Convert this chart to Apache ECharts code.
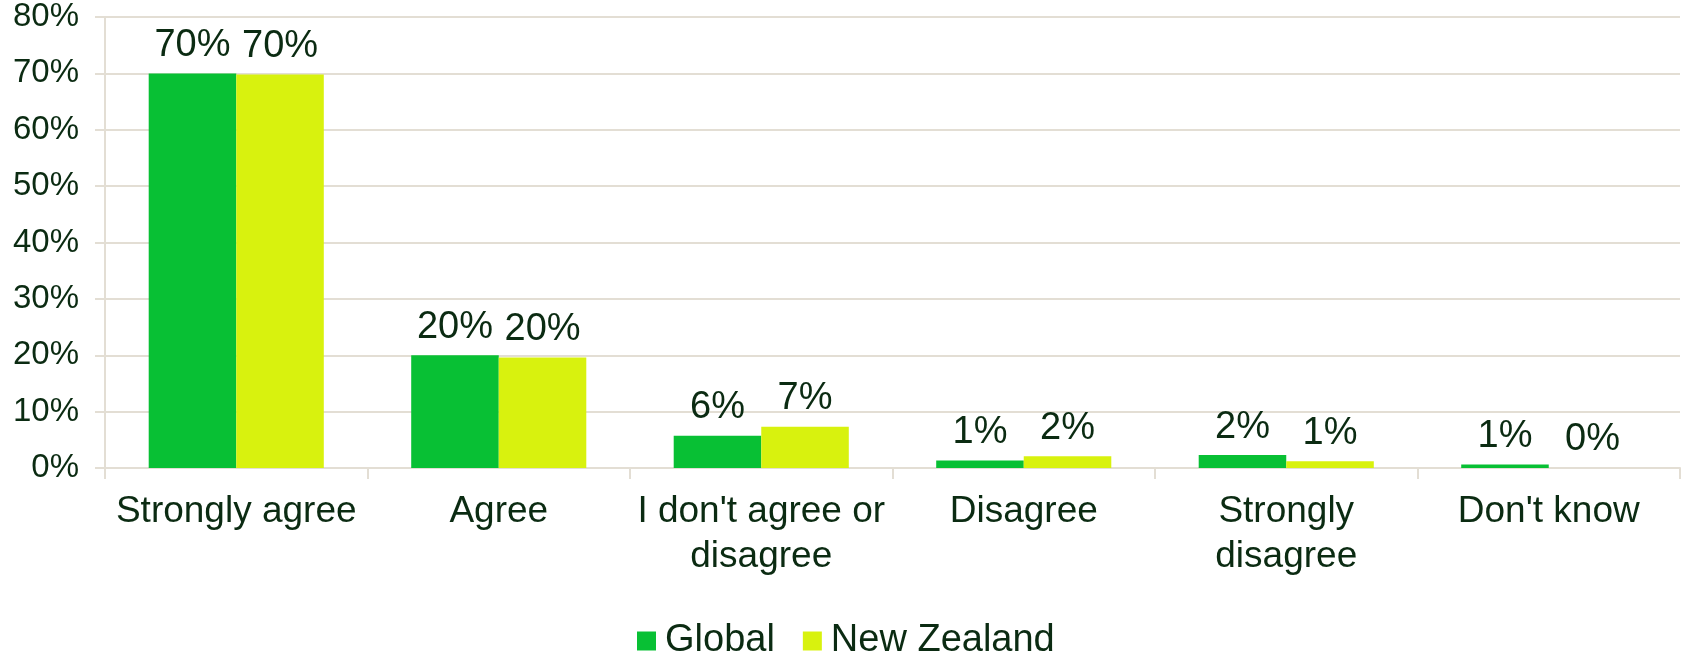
<!DOCTYPE html>
<html>
<head>
<meta charset="utf-8">
<script src="https://cdn.jsdelivr.net/npm/echarts@6/dist/echarts.min.js"></script>
<style>
html,body{margin:0;padding:0;background:#fff;}
#chart{width:1683px;height:655px;}
</style>
</head>
<body>
<div id="chart"></div>
<script>
const categories = ["Strongly agree", "Agree", "I don't agree or\ndisagree", "Disagree", "Strongly\ndisagree", "Don't know"];
const globalValues = [70.0, 20.0, 5.7, 1.35, 2.3, 0.6];
const nzValues = [69.8, 19.6, 7.3, 2.1, 1.2, 0];
const yTicks = [0, 10, 20, 30, 40, 50, 60, 70, 80];

const textColor = '#0b2b12';
const gridColor = '#e3ded4';
const font = '"Liberation Sans", Arial, sans-serif';

const chart = echarts.init(document.getElementById('chart'));
const labelCfg = {
  show: true,
  position: 'top',
  distance: 9,
  color: textColor,
  fontFamily: font,
  fontSize: 38,
  formatter: p => Math.round(p.value) + '%'
};
chart.setOption({
  animation: false,
  textStyle: {fontFamily: font},
  grid: {left: 105, right: 3, top: 17, bottom: 187, containLabel: false},
  legend: {
    data: ['Global', 'New Zealand'],
    left: 632,
    top: 617,
    icon: 'rect',
    itemWidth: 19,
    itemHeight: 19,
    itemGap: 28,
    textStyle: {color: textColor, fontSize: 38, fontFamily: font, lineHeight: 38, padding: [0, 0, 0, 4]}
  },
  xAxis: {
    type: 'category',
    data: categories,
    axisLine: {show: true, lineStyle: {color: gridColor, width: 2}},
    axisTick: {show: true, length: 11, lineStyle: {color: gridColor, width: 2}},
    axisLabel: {color: textColor, fontSize: 37, fontFamily: font, lineHeight: 45, margin: 21, interval: 0}
  },
  yAxis: {
    type: 'value',
    min: yTicks[0],
    max: yTicks[yTicks.length - 1],
    interval: 10,
    axisLine: {show: true, lineStyle: {color: gridColor, width: 2}},
    axisTick: {show: true, length: 10, lineStyle: {color: gridColor, width: 2}},
    splitLine: {show: true, lineStyle: {color: gridColor, width: 2}},
    axisLabel: {color: textColor, fontSize: 33, fontFamily: font, margin: 26, formatter: v => v + '%'}
  },
  series: [
    {
      name: 'Global',
      type: 'bar',
      data: globalValues,
      itemStyle: {color: '#08c034'},
      barGap: '0%',
      barCategoryGap: '33.3%',
      label: labelCfg
    },
    {
      name: 'New Zealand',
      type: 'bar',
      data: nzValues,
      itemStyle: {color: '#d8f20e'},
      barGap: '0%',
      barCategoryGap: '33.3%',
      label: labelCfg
    }
  ]
});
</script>
</body>
</html>
